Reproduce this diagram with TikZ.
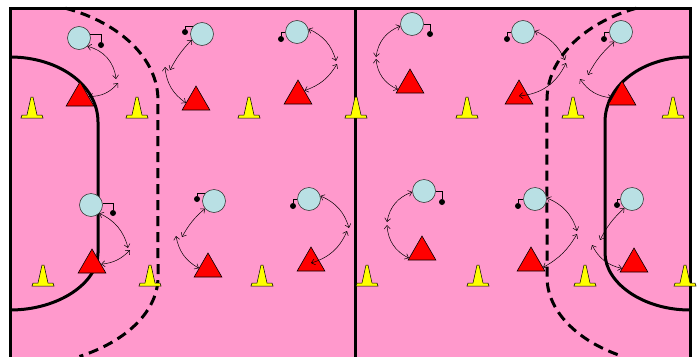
\documentclass[tikz,border=0pt]{standalone}
\usetikzlibrary{shapes.geometric,arrows.meta}
\definecolor{hbpink}{RGB}{255,153,204}
\definecolor{hbblue}{RGB}{185,224,228}
\definecolor{hbred}{RGB}{255,0,0}
\definecolor{hbyellow}{RGB}{255,255,0}
\definecolor{hbgray}{RGB}{60,60,60}

\begin{document}
\begin{tikzpicture}[x=1pt,y=-1pt,
  player/.style={circle,draw=hbgray,fill=hbblue,line width=0.6pt,minimum size=23pt,inner sep=0pt},
  attacker/.style={regular polygon,regular polygon sides=3,draw=black,fill=hbred,line width=0.6pt,minimum size=32pt,inner sep=0pt},
  ball/.style={circle,fill=black,minimum size=6pt,inner sep=0pt},
  hook/.style={line width=0.6pt},
  pass/.style={line width=0.5pt,{Straight Barb[length=3.5pt,width=6pt]}-{Straight Barb[length=3.5pt,width=6pt]}},
  courtline/.style={line width=3pt},
  zoneline/.style={line width=3pt,dash pattern=on 10pt off 6pt},
  cone/.pic={\draw[fill=hbyellow,line width=0.5pt] (-11,0) -- (-10,-3) -- (-5,-3) -- (-1,-21) -- (1,-21) -- (5,-3) -- (10,-3) -- (11,0) -- cycle;}]
  \clip (0,0) rectangle (700,356);
  \fill[white] (0,0) rectangle (700,356);
  \fill[hbpink] (10,8) rectangle (690,370);
  \draw[courtline] (10,370) -- (10,8) -- (690,8) -- (690,370);
  \draw[courtline] (355,8) -- (355,370);
  \draw[courtline] (10,57) .. controls (58.6,57) and (98,85) .. (98,122) -- (98,253) .. controls (98,283) and (58.6,310) .. (10,310);
  \draw[courtline] (690,57) .. controls (643,57) and (605,85) .. (605,122) -- (605,253) .. controls (605,283) and (643,310) .. (690,310);
  \draw[zoneline] (65.4,8.2) arc[start angle=68,end angle=0,x radius=148pt,y radius=99pt] -- (158,277) arc[start angle=0,end angle=-62,x radius=148pt,y radius=90pt];
  \draw[zoneline] (636.4,8.2) arc[start angle=112,end angle=180,x radius=143pt,y radius=99pt] -- (547,277) arc[start angle=180,end angle=242,x radius=143pt,y radius=90pt];

  \pic at (32,118) {cone};
  \pic at (137,118) {cone};
  \pic at (249,118) {cone};
  \pic at (356,118) {cone};
  \pic at (467,118) {cone};
  \pic at (573,118) {cone};
  \pic at (673,118) {cone};
  \pic at (43,286) {cone};
  \pic at (150,286) {cone};
  \pic at (262,286) {cone};
  \pic at (367,286) {cone};
  \pic at (478,286) {cone};
  \pic at (585,286) {cone};
  \pic at (685,286) {cone};

  \node[attacker] (t1) at (80,98) {};
  \node[attacker] (t2) at (196,102) {};
  \node[attacker] (t3) at (298,96) {};
  \node[attacker] (t4) at (410,85) {};
  \node[attacker] (t5) at (519,96) {};
  \node[attacker] (t6) at (622,97) {};
  \node[attacker] (t7) at (92,265) {};
  \node[attacker] (t8) at (208,269) {};
  \node[attacker] (t9) at (311,263) {};
  \node[attacker] (t10) at (422,252) {};
  \node[attacker] (t11) at (531,263) {};
  \node[attacker] (t12) at (634,264) {};

  \node[player] (p1) at (79,38) {};
  \node[player] (p2) at (202,34) {};
  \node[player] (p3) at (297,32) {};
  \node[player] (p4) at (412,24) {};
  \node[player] (p5) at (523,32) {};
  \node[player] (p6) at (621,32) {};
  \node[player] (p7) at (91,205) {};
  \node[player] (p8) at (214,201) {};
  \node[player] (p9) at (309,199) {};
  \node[player] (p10) at (424,191) {};
  \node[player] (p11) at (535,199) {};
  \node[player] (p12) at (632,199) {};

  \node[ball] (b1) at (101,45) {};
  \node[ball] (b2) at (185,32) {};
  \node[ball] (b3) at (281,39) {};
  \node[ball] (b4) at (430,34) {};
  \node[ball] (b5) at (507,39) {};
  \node[ball] (b6) at (604,39) {};
  \node[ball] (b7) at (113,213) {};
  \node[ball] (b8) at (197,199) {};
  \node[ball] (b9) at (293,206) {};
  \node[ball] (b10) at (442,202) {};
  \node[ball] (b11) at (518,206) {};
  \node[ball] (b12) at (617,205) {};
  \draw[hook] (b1.north) |- (p1.20);
  \draw[hook] (b2.north) |- (p2.140);
  \draw[hook] (b3.north) |- (p3.180);
  \draw[hook] (b4.north) |- (p4.0);
  \draw[hook] (b5.north) |- (p5.180);
  \draw[hook] (b6.north) |- (p6.180);
  \draw[hook] (b7.north) |- (p7.10);
  \draw[hook] (b8.north) |- (p8.140);
  \draw[hook] (b9.north) |- (p9.180);
  \draw[hook] (b10.north) |- (p10.0);
  \draw[hook] (b11.north) |- (p11.180);
  \draw[hook] (b12.north) |- (p12.180);

  \coordinate (m1a) at (116,79);
  \coordinate (m1b) at (118,83);
  \coordinate (m2a) at (170,70);
  \coordinate (m2b) at (165,67);
  \coordinate (m3a) at (336,61);
  \coordinate (m3b) at (337,64);
  \coordinate (m4a) at (376,57);
  \coordinate (m4b) at (376,59);
  \coordinate (m5a) at (565,60);
  \coordinate (m5b) at (566,63);
  \coordinate (m6a) at (588,75);
  \coordinate (m6b) at (580,79);
  \coordinate (m7a) at (128,248);
  \coordinate (m7b) at (130,250);
  \coordinate (m8a) at (182,237);
  \coordinate (m8b) at (176,236);
  \coordinate (m9a) at (349,228);
  \coordinate (m9b) at (347,231);
  \coordinate (m10a) at (387,222);
  \coordinate (m10b) at (387,225);
  \coordinate (m11a) at (577,231);
  \coordinate (m11b) at (577,234);
  \coordinate (m12a) at (600,240);
  \coordinate (m12b) at (592,245);

  \draw[pass] (p1.-45) to[bend left=35] (m1a);
  \draw[pass] (m1b) to[bend left=25] (t1.10);
  \draw[pass] (p2.-150) to[bend right=8] (m2a);
  \draw[pass] (m2b) to[bend right=25] (t2.185);
  \draw[pass] (p3.15) to[bend left=25] (m3a);
  \draw[pass] (m3b) to[bend left=20] (t3.40);
  \draw[pass] (p4.190) to[bend right=30] (m4a);
  \draw[pass] (m4b) to[bend right=30] (t4.200);
  \draw[pass] (p5.5) to[bend left=20] (m5a);
  \draw[pass] (m5b) to[bend left=30] (t5.center);
  \draw[pass] (p6.-125) to[bend right=10] (m6a);
  \draw[pass] (m6b) to[bend right=25] (t6.185);
  \draw[pass] (p7.-45) to[bend left=25] (m7a);
  \draw[pass] (m7b) to[bend left=20] (t7.5);
  \draw[pass] (p8.-140) to[bend right=10] (m8a);
  \draw[pass] (m8b) to[bend right=25] (t8.175);
  \draw[pass] (p9.15) to[bend left=25] (m9a);
  \draw[pass] (m9b) to[bend left=25] (t9.center);
  \draw[pass] (p10.185) to[bend right=30] (m10a);
  \draw[pass] (m10b) to[bend right=30] (t10.205);
  \draw[pass] (p11.5) to[bend left=25] (m11a);
  \draw[pass] (m11b) to[bend left=15] (t11.-20);
  \draw[pass] (p12.-130) to[bend right=10] (m12a);
  \draw[pass] (m12b) to[bend right=25] (t12.200);
\end{tikzpicture}
\end{document}
